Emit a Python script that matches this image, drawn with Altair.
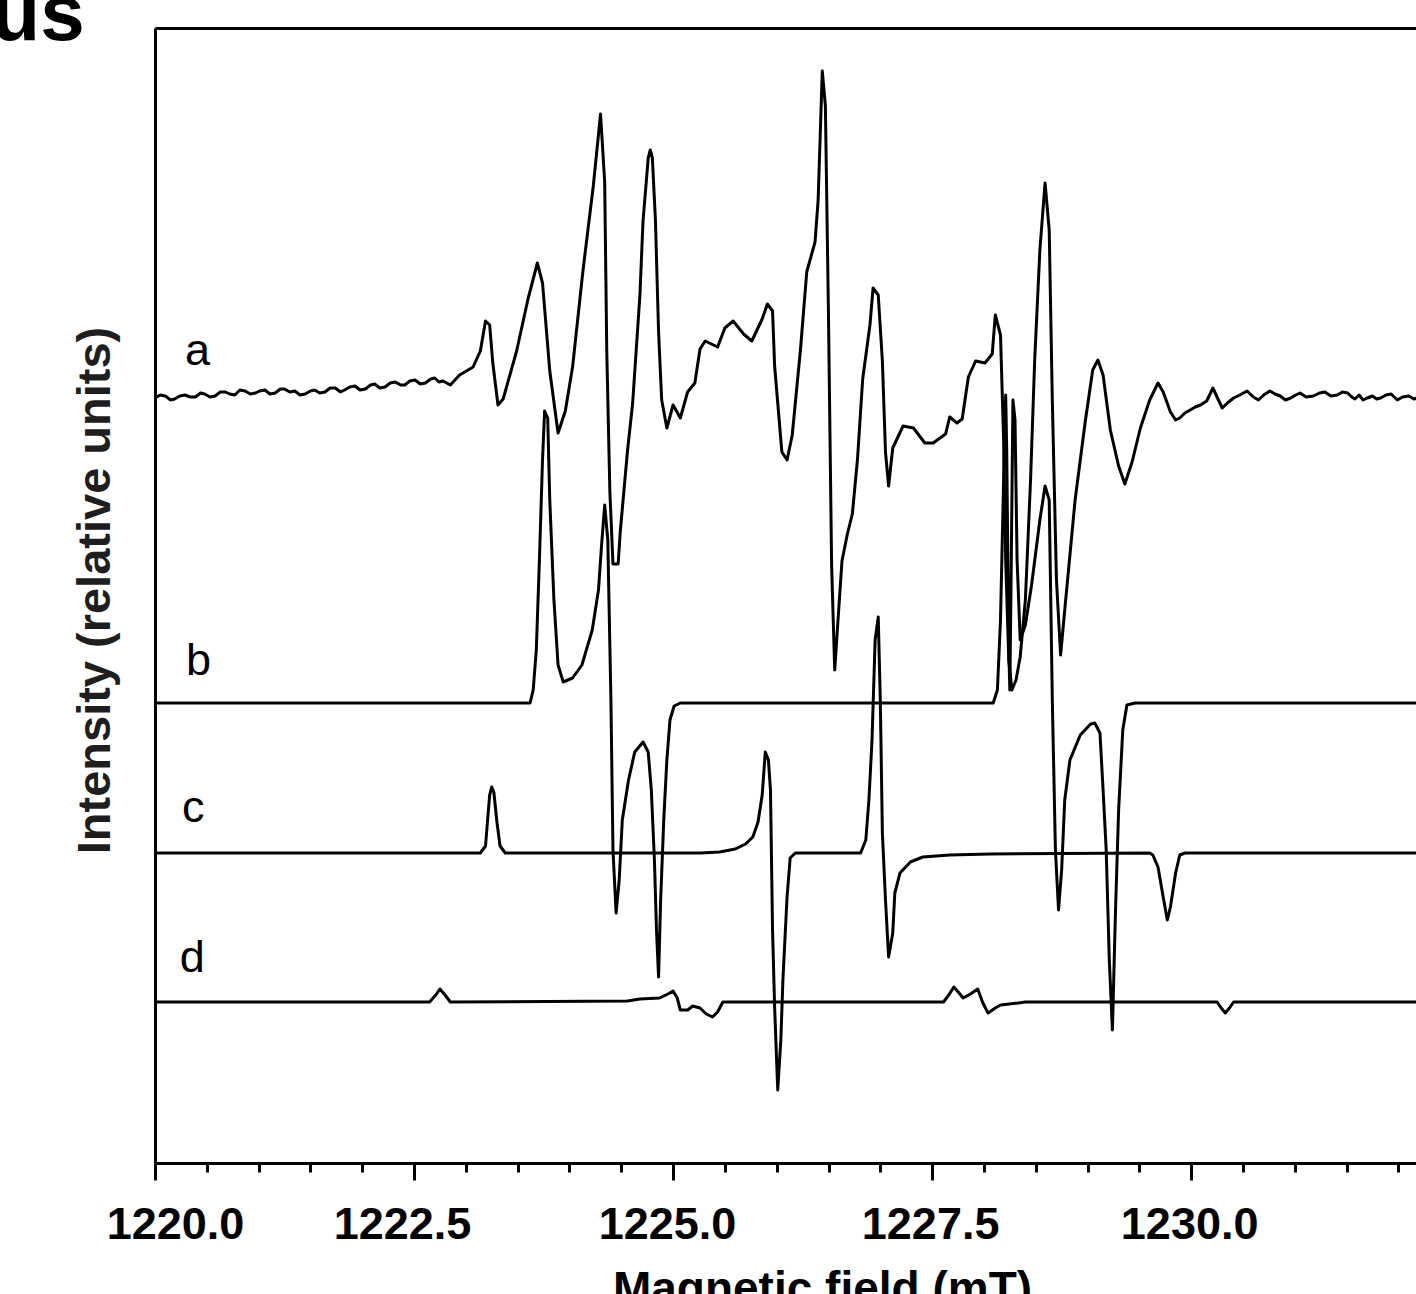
import altair as alt
import pandas as pd

# ---------------- data ----------------
# magnetic field (mT) and intensity (relative units) for each spectrum
a_field = [1220.00, 1220.05, 1220.10, 1220.15, 1220.19, 1220.24, 1220.29, 1220.34, 1220.39, 1220.44,
           1220.48, 1220.53, 1220.58, 1220.63, 1220.68, 1220.72, 1220.77, 1220.82, 1220.87, 1220.92,
           1220.97, 1221.01, 1221.06, 1221.11, 1221.16, 1221.21, 1221.25, 1221.30, 1221.35, 1221.40,
           1221.45, 1221.50, 1221.54, 1221.59, 1221.64, 1221.69, 1221.74, 1221.79, 1221.83, 1221.88,
           1221.93, 1221.98, 1222.03, 1222.08, 1222.12, 1222.17, 1222.22, 1222.27, 1222.32, 1222.37,
           1222.41, 1222.46, 1222.51, 1222.56, 1222.61, 1222.66, 1222.70, 1222.74, 1222.78,
           1222.85, 1222.94, 1223.07, 1223.14, 1223.19, 1223.23, 1223.26, 1223.31, 1223.36, 1223.49,
           1223.60, 1223.69, 1223.74, 1223.81, 1223.89, 1223.96, 1224.03, 1224.13, 1224.23, 1224.30,
           1224.34, 1224.36, 1224.39, 1224.42, 1224.47, 1224.49, 1224.56, 1224.61, 1224.68, 1224.71,
           1224.76, 1224.78, 1224.80, 1224.83, 1224.86, 1224.89, 1224.94, 1225.00, 1225.07, 1225.14,
           1225.21, 1225.26, 1225.31, 1225.43, 1225.50, 1225.58, 1225.68, 1225.76, 1225.86, 1225.91,
           1225.96, 1225.98, 1226.05, 1226.10, 1226.15, 1226.23, 1226.29, 1226.37, 1226.40, 1226.44,
           1226.47, 1226.50, 1226.53, 1226.56, 1226.59, 1226.63, 1226.68, 1226.73, 1226.78, 1226.83,
           1226.90, 1226.93, 1226.98, 1227.02, 1227.05, 1227.08, 1227.12, 1227.22, 1227.32, 1227.43,
           1227.51, 1227.63, 1227.67, 1227.74, 1227.79, 1227.85, 1227.92, 1228.01, 1228.08, 1228.11,
           1228.16, 1228.19, 1228.21, 1228.24, 1228.27, 1228.31, 1228.35, 1228.40, 1228.45, 1228.49,
           1228.54, 1228.59, 1228.63, 1228.66, 1228.70, 1228.74, 1228.78, 1228.88, 1228.98, 1229.05,
           1229.10, 1229.15, 1229.22, 1229.30, 1229.36, 1229.43, 1229.51, 1229.60, 1229.68, 1229.73,
           1229.80, 1229.85, 1229.89, 1229.94, 1229.99, 1230.04, 1230.09, 1230.15, 1230.21, 1230.25,
           1230.30, 1230.35, 1230.41, 1230.47, 1230.54, 1230.60, 1230.65, 1230.70, 1230.76, 1230.81,
           1230.86, 1230.91, 1230.96, 1231.01, 1231.05, 1231.11, 1231.18, 1231.24, 1231.29, 1231.35,
           1231.41, 1231.46, 1231.51, 1231.55, 1231.58, 1231.62, 1231.66, 1231.70, 1231.75, 1231.79,
           1231.83, 1231.88, 1231.93, 1231.96, 1231.99, 1232.04, 1232.10, 1232.15, 1232.21]
a_int = [765, 768, 767, 763, 764, 767, 768, 766, 766, 770,
         769, 766, 767, 771, 771, 769, 768, 773, 772, 769,
         770, 772, 773, 769, 770, 774, 774, 771, 772, 768,
         769, 772, 773, 770, 771, 775, 775, 771, 773, 776,
         777, 773, 774, 778, 779, 775, 776, 780, 781, 778,
         778, 782, 783, 779, 780, 784, 785, 781, 782,
         778, 788, 796, 812, 842, 838, 800, 758, 764, 812,
         864, 900, 880, 792, 730, 752, 796, 892, 977, 1049,
         981, 812, 671, 599, 599, 631, 712, 760, 868, 942,
         1005, 1013, 1005, 942, 831, 763, 735, 758, 745, 771,
         780, 814, 822, 816, 835, 842, 829, 822, 844, 859,
         852, 797, 711, 703, 728, 814, 891, 921, 963, 1092,
         1057, 846, 598, 493, 540, 602, 628, 649, 704, 784,
         838, 875, 868, 802, 711, 677, 715, 737, 735, 720,
         720, 729, 746, 740, 744, 786, 802, 800, 809, 848,
         828, 723, 603, 503, 473, 483, 506, 563, 683, 803,
         913, 980, 933, 763, 583, 508, 553, 663, 743, 793,
         803, 788, 733, 697, 679, 701, 735, 763, 780, 771,
         751, 743, 745, 750, 753, 756, 758, 762, 775, 766,
         755, 760, 765, 768, 772, 766, 763, 768, 772, 769,
         767, 763, 765, 768, 770, 766, 767, 770, 771, 767,
         768, 771, 770, 766, 764, 768, 763, 765, 767, 764,
         765, 768, 769, 766, 763, 766, 767, 764, 766]

b_field = [1220.00, 1223.62, 1223.65, 1223.68, 1223.71, 1223.74, 1223.76, 1223.79, 1223.81, 1223.85,
           1223.89, 1223.94, 1224.03, 1224.12, 1224.22, 1224.28, 1224.31, 1224.34, 1224.37, 1224.40,
           1224.42, 1224.45, 1224.48, 1224.51, 1224.57, 1224.63, 1224.71, 1224.76, 1224.79, 1224.82,
           1224.84, 1224.86, 1224.88, 1224.91, 1224.94, 1224.97, 1225.01, 1225.07, 1228.09, 1228.13,
           1228.16, 1228.19, 1228.21, 1228.22, 1228.24, 1228.25, 1228.26, 1228.28, 1228.30, 1228.32,
           1228.35, 1228.40, 1228.46, 1228.54, 1228.59, 1228.63, 1228.66, 1228.69, 1228.72, 1228.75,
           1228.78, 1228.83, 1228.93, 1229.03, 1229.07, 1229.12, 1229.15, 1229.18, 1229.21, 1229.24,
           1229.27, 1229.30, 1229.34, 1229.38, 1229.46, 1232.21]
b_int = [460, 460, 473, 513, 603, 703, 752, 745, 663, 563,
         498, 481, 485, 498, 533, 573, 618, 658, 623, 463,
         313, 250, 283, 343, 383, 411, 421, 411, 373, 303,
         233, 186, 263, 343, 403, 443, 457, 460, 460, 473,
         543, 683, 768, 713, 513, 473, 563, 763, 743, 603,
         523, 538, 578, 643, 677, 663, 463, 313, 253, 293,
         363, 403, 428, 439, 440, 430, 373, 313, 203, 133,
         253, 353, 433, 458, 460, 460]

c_field = [1220.00, 1223.14, 1223.19, 1223.21, 1223.23, 1223.25, 1223.27, 1223.30, 1223.33, 1223.38,
           1225.26, 1225.45, 1225.60, 1225.70, 1225.77, 1225.82, 1225.86, 1225.89, 1225.92, 1225.94,
           1225.96, 1225.98, 1226.01, 1226.04, 1226.06, 1226.10, 1226.13, 1226.18, 1226.81, 1226.86,
           1226.89, 1226.92, 1226.95, 1226.98, 1227.00, 1227.02, 1227.05, 1227.08, 1227.12, 1227.14,
           1227.19, 1227.29, 1227.41, 1227.67, 1228.06, 1229.60, 1229.63, 1229.68, 1229.73, 1229.77,
           1229.80, 1229.85, 1229.89, 1229.94, 1232.21]
c_int = [310, 310, 317, 343, 368, 376, 371, 341, 317, 310,
         310, 311, 314, 319, 326, 341, 368, 411, 403, 373,
         233, 156, 73, 123, 183, 266, 305, 310, 310, 323,
         363, 423, 523, 546, 463, 330, 263, 206, 230, 270,
         290, 301, 306, 308, 309, 310, 308, 296, 266, 243,
         256, 290, 308, 310, 310]

d_field = [1220.00, 1222.65, 1222.71, 1222.75, 1222.80, 1222.85, 1224.56, 1224.68, 1224.87, 1224.95,
           1225.00, 1225.04, 1225.07, 1225.14, 1225.19, 1225.26, 1225.32, 1225.38, 1225.43, 1225.45,
           1225.48, 1227.61, 1227.66, 1227.71, 1227.76, 1227.80, 1227.87, 1227.94, 1227.99, 1228.04,
           1228.11, 1228.16, 1228.33, 1228.40, 1230.25, 1230.29, 1230.33, 1230.37, 1230.41, 1232.21]
d_int = [161, 161, 168, 174, 168, 161, 162, 164, 165, 169,
         172, 165, 153, 153, 157, 155, 149, 146, 151, 155,
         161, 161, 168, 176, 170, 165, 169, 174, 160, 150,
         155, 158, 160, 161, 161, 155, 150, 155, 161, 161]

# trace letters
label_text = ["a", "b", "c", "d"]
label_field = [1220.29, 1220.30, 1220.26, 1220.24]
label_int = [798, 488, 341, 191]

# fragment of the page heading visible at top-left (cut by the crop)
heading_text = ["us"]
heading_field = [1218.42]
heading_int = [1123]

# axis ticks
tick_values = [1220.0, 1220.5, 1221.0, 1221.5, 1222.0, 1222.5, 1223.0, 1223.5, 1224.0,
               1224.5, 1225.0, 1225.5, 1226.0, 1226.5, 1227.0, 1227.5, 1228.0, 1228.5,
               1229.0, 1229.5, 1230.0, 1230.5, 1231.0, 1231.5, 1232.0]

# ---------------- tables ----------------
rows = []
for name, fs, ys in [("a", a_field, a_int), ("b", b_field, b_int),
                     ("c", c_field, c_int), ("d", d_field, d_int)]:
    for i, (f, y) in enumerate(zip(fs, ys)):
        rows.append({"trace": name, "idx": i, "field": f, "intensity": y})
df = pd.DataFrame(rows)
labels_df = pd.DataFrame({"label": label_text, "field": label_field, "intensity": label_int})
heading_df = pd.DataFrame({"label": heading_text, "field": heading_field, "intensity": heading_int})

FONT = "Liberation Sans, Arial, Helvetica, sans-serif"

x_scale = alt.Scale(domain=[1220, 1232.17], nice=False, zero=False)
y_scale = alt.Scale(domain=[0, 1135], nice=False, zero=False)

x_axis = alt.Axis(
    title="Magnetic field (mT)",
    values=tick_values,
    labelExpr="datum.value % 2.5 === 0 ? format(datum.value, '.1f') : ''",
    tickSize={"condition": {"test": "datum.value % 2.5 === 0", "value": 17}, "value": 9},
    labelOffset={"condition": [{"test": "datum.value === 1220", "value": 20},
                               {"test": "datum.value === 1222.5", "value": -12},
                               {"test": "datum.value === 1225", "value": -6}],
                 "value": -2},
    tickWidth=3, tickColor="black",
    domainWidth=3, domainColor="black",
    labelFont=FONT, labelFontSize=45, labelFontWeight="bold", labelColor="black",
    labelPadding=22, labelFlush=False, labelOverlap=False,
    titleFont=FONT, titleFontSize=46, titleFontWeight="bold", titleColor="black",
    titleX=667, titleY=104, titleBaseline="top", titleAnchor="start", titleAlign="center",
    grid=False,
)
y_axis = alt.Axis(
    title="Intensity (relative units)",
    labels=False, ticks=False, grid=False,
    domainWidth=3, domainColor="black",
    titleFont=FONT, titleFontSize=47, titleFontWeight="bold", titleColor="#1e1e1e",
    titleAngle=270, titleX=-46, titleY=562, titleBaseline="alphabetic", titleAlign="center",
)

X = alt.X("field:Q", scale=x_scale, axis=x_axis)
Y = alt.Y("intensity:Q", scale=y_scale, axis=y_axis)

lines = alt.Chart(df).mark_line(color="black", strokeWidth=3, clip=True,
                                strokeJoin="round").encode(
    x=X, y=Y, detail="trace:N", order="idx:Q")

letters = alt.Chart(labels_df).mark_text(
    align="left", baseline="alphabetic", font=FONT, fontSize=45, color="black"
).encode(x=X, y=Y, text="label:N")

heading = alt.Chart(heading_df).mark_text(
    align="left", baseline="alphabetic", font=FONT, fontSize=80, fontWeight="bold", color="black"
).encode(x=X, y=Y, text="label:N")

inner = alt.layer(lines, letters, heading)

top_border = alt.Chart(labels_df).mark_point(opacity=0).encode(
    x=alt.X("field:Q", scale=x_scale,
            axis=alt.Axis(orient="top", labels=False, ticks=False, title=None, grid=False,
                          domainWidth=3, domainColor="black"))
)

chart = alt.layer(inner, top_border).resolve_axis(x="independent").properties(
    width=1261, height=1135,
    autosize=alt.AutoSizeParams(type="none"),
    padding={"left": 155, "top": 28, "right": 0, "bottom": 131},
).configure_view(stroke=None).configure(background="white")

chart.save("out.html", embed_options={"renderer": "svg", "actions": False})
